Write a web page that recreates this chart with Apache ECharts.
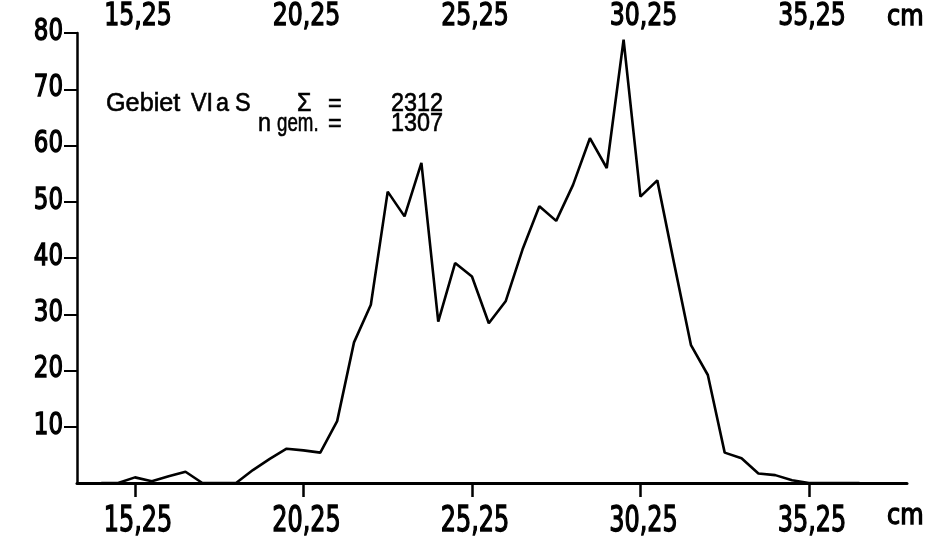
<!DOCTYPE html>
<html>
<head>
<meta charset="utf-8">
<script src="https://cdn.jsdelivr.net/npm/echarts@6/dist/echarts.min.js"></script>
<style>
html,body{margin:0;padding:0;background:#fff;}
#chart{width:937px;height:541px;}
</style>
</head>
<body>
<div id="chart"></div>
<script>
// Length classes (cm, class midpoints) and frequencies (per mille)
const lengthClasses = [14.25,14.75,15.25,15.75,16.25,16.75,17.25,17.75,18.25,18.75,19.25,19.75,20.25,20.75,21.25,21.75,22.25,22.75,23.25,23.75,24.25,24.75,25.25,25.75,26.25,26.75,27.25,27.75,28.25,28.75,29.25,29.75,30.25,30.75,31.25,31.75,32.25,32.75,33.25,33.75,34.25,34.75,35.25,35.75,36.25,36.75];
const frequencies  = [0,0,1,0.3,1.2,2,0,0,0,2.3,4.3,6.1,5.8,5.4,11,25,31.7,51.8,47.4,56.9,28.7,39.1,36.7,28.4,32.3,41.5,49.2,46.6,53,61.3,56,78.8,50.9,53.8,39,24.5,19.2,5.4,4.4,1.7,1.4,0.5,0,0,0,0];
const xTickValues = [15.25,20.25,25.25,30.25,35.25];
const xTickLabels = ["15,25","20,25","25,25","30,25","35,25"];
const yTickValues = [10,20,30,40,50,60,70,80];
const yTickLabels = ["10","20","30","40","50","60","70","80"];
const unitLabel = "cm";
const noteLine1 = ["Gebiet", "VI", "a", "S", "Σ", "=", "2312"];
const noteLine2 = ["n", "gem.", "=", "1307"];

const FONT = '"DejaVu Sans Condensed","DejaVu Sans",sans-serif';
const TFONT = '"Liberation Sans","DejaVu Sans",sans-serif';

const chart = echarts.init(document.getElementById('chart'), null, {renderer:'canvas'});

chart.setOption({
  animation: false,
  backgroundColor: '#fff',
  grid: {left: 77, right: 30, top: 33, bottom: 58, containLabel: false},
  xAxis: {
    type: 'value', position: 'bottom', min: 13.53, max: 38.16,
    splitLine: {show: false},
    axisLine: {show: true, lineStyle: {color: '#000', width: 3}},
    axisTick: {show: true, inside: false, length: 14, lineStyle: {color: '#000', width: 2.5}, customValues: xTickValues},
    axisLabel: {show: false}
  },
  yAxis: {
    type: 'value', min: 0, max: 80, interval: 10,
    splitLine: {show: false},
    axisLine: {show: true, lineStyle: {color: '#000', width: 2.5}},
    axisTick: {show: true, inside: false, length: 13, lineStyle: {color: '#000', width: 2}, customValues: yTickValues},
    axisLabel: {show: false}
  },
  series: [{
    type: 'line',
    data: lengthClasses.map((x, i) => [x, frequencies[i]]),
    symbol: 'none', smooth: false,
    lineStyle: {color: '#000', width: 2.6},
    z: 3
  }]
});

// Tick labels placed through the chart's own scales (condensed lettering)
const g = [];
const yBottom = chart.convertToPixel({yAxisIndex: 0}, 0);
const yTop = chart.convertToPixel({yAxisIndex: 0}, 80);
const lbl = (text, size, extra) => Object.assign({text: text, font: size + 'px ' + FONT, fill: '#000', stroke: '#000', lineWidth: 1.3}, extra);
xTickValues.forEach((v, i) => {
  const px = chart.convertToPixel({xAxisIndex: 0}, v) + 3;
  g.push({type: 'text', x: px, y: yBottom + 38.5, scaleX: 0.76,
    style: lbl(xTickLabels[i], 35, {align: 'center', verticalAlign: 'middle'})});
  g.push({type: 'text', x: px, y: yTop - 16.5, scaleX: 0.82,
    style: lbl(xTickLabels[i], 32, {align: 'center', verticalAlign: 'middle'})});
});
yTickValues.forEach((v, i) => {
  const py = chart.convertToPixel({yAxisIndex: 0}, v);
  g.push({type: 'text', x: 63, y: py - 1, scaleX: 0.85,
    style: lbl(yTickLabels[i], 30, {align: 'right', verticalAlign: 'middle'})});
});
g.push({type: 'text', x: 887, y: 516.5, scaleX: 0.92, style: lbl(unitLabel, 29, {align: 'left', verticalAlign: 'middle'})});
g.push({type: 'text', x: 887, y: 17.5, scaleX: 0.92, style: lbl(unitLabel, 29, {align: 'left', verticalAlign: 'middle'})});

// Annotation block
const note = (text, extra) => Object.assign({text: text, font: '26px ' + TFONT, fill: '#000', stroke: '#000', lineWidth: 0.6, align: 'left', verticalAlign: 'middle'}, extra);
const l1x = [106, 191, 216, 235, 297, 328, 391];
noteLine1.forEach((t, i) => g.push({type: 'text', x: l1x[i], y: 104, scaleX: (t === 'Gebiet' ? 0.97 : 0.9), style: note(t)}));
const l2x = [258, 277, 328, 391];
noteLine2.forEach((t, i) => g.push({type: 'text', x: l2x[i], y: 124, scaleX: (t === 'gem.' ? 0.72 : 0.9), style: note(t)}));

chart.setOption({graphic: g});
</script>
</body>
</html>
